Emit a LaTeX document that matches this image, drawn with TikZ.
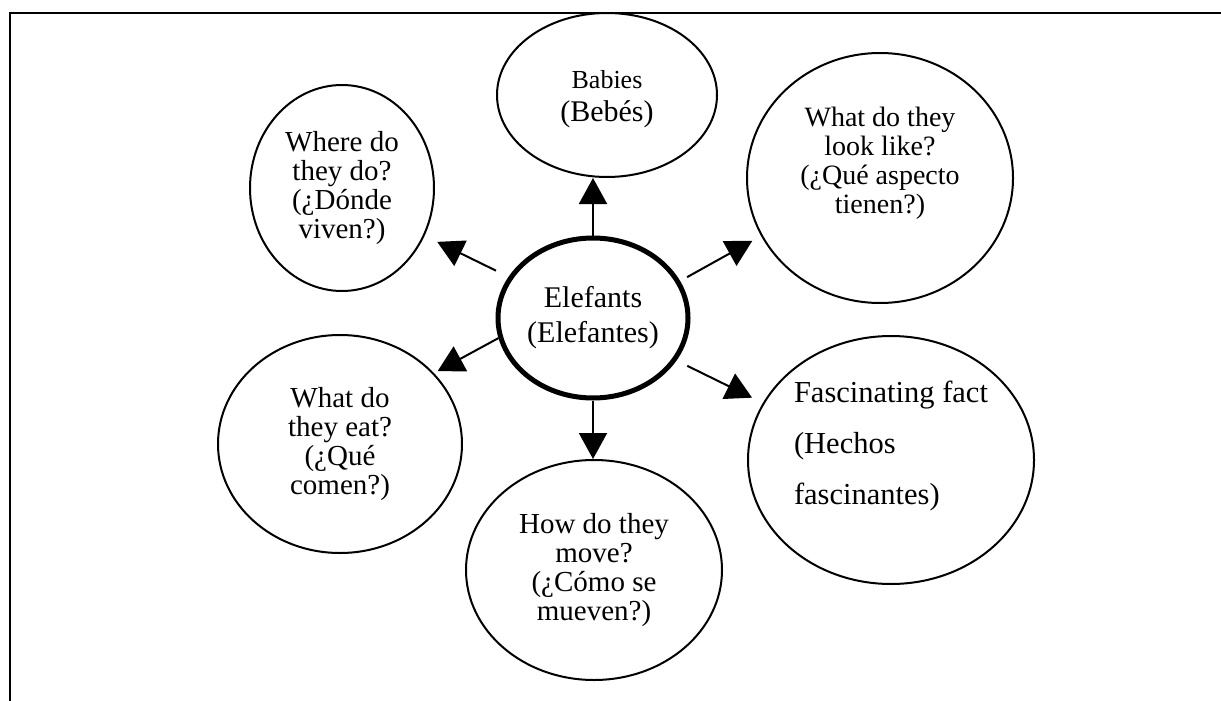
\documentclass[tikz,border=0pt]{standalone}
\usepackage{fontspec}
\setmainfont{Liberation Serif}
\usetikzlibrary{shapes, positioning, arrows.meta, calc}
\tikzset{
  bubble/.style={
    ellipse,
    draw=black, line width=1pt,
    inner sep=0pt,
    align=center,
    font=\fontsize{14.5}{14.5}\selectfont
  },
  hub/.style={
    bubble,
    line width=2.5pt,
    font=\fontsize{15}{17.5}\selectfont
  },
  arrow/.style={
    draw=black,
    line width=1pt,
    -{Triangle[length=13pt, width=14pt]}
  }
}

\begin{document}
\begin{tikzpicture}[x=0.5pt, y=-0.5pt]
\useasboundingbox (0,0) rectangle (1221,701);
% frame
\draw[line width=1.2pt] (10,701) -- (10,13) -- (1221,13);

% nodes
\node[hub, minimum width=95pt, minimum height=80pt] (centre) at (593,318)
  {Elefants\\(Elefantes)};

\node[bubble, minimum width=110pt, minimum height=82pt,
      font=\fontsize{15}{16.5}\selectfont, text height=30pt] (babies) at (607,95)
  {{\fontsize{13}{16.5}\selectfont Babies}\\(Bebés)};

\node[bubble, minimum width=92pt, minimum height=103pt] (where) at (342,188)
  {Where do\\they do?\\(¿Dónde\\viven?)};

\node[bubble, minimum width=133pt, minimum height=125pt,
      font=\fontsize{14}{14.5}\selectfont, text depth=18pt] (look) at (880,178)
  {What do they\\look like?\\(¿Qué aspecto\\tienen?)};

\node[bubble, minimum width=143pt, minimum height=124pt, align=left,
      font=\fontsize{15.25}{25.5}\selectfont, text depth=17pt] (fasc) at (891,460)
  {Fascinating fact\\(Hechos\\fascinantes)};

\node[bubble, minimum width=122pt, minimum height=109pt] (eat) at (340,444)
  {What do\\they eat?\\(¿Qué\\comen?)};

\node[bubble, minimum width=128pt, minimum height=110pt] (move) at (594,570)
  {How do they\\move?\\(¿Cómo se\\mueven?)};

% edges
\draw [arrow] (centre.north) -- (centre.north |- babies.south);
\draw [arrow] (centre.south) -- (centre.south |- move.north);
\draw [arrow, shorten <=7pt, shorten >=7pt] (centre.154) -- (where.-30);
\draw [arrow, shorten <=4pt, shorten >=5pt] (centre.23) -- (look.206);
\draw [arrow, shorten <=6pt, shorten >=6pt] (centre.-27) -- (fasc.156);
\draw [arrow, shorten >=2pt] (centre.192) -- (eat.37);

\end{tikzpicture}
\end{document}
